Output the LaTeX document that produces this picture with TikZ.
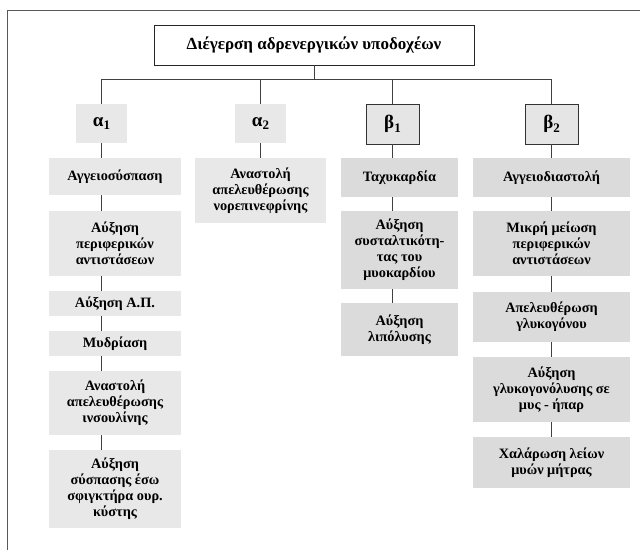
\documentclass[tikz,border=0pt]{standalone}
\usepackage{fontspec}
\setmainfont{Liberation Serif}
\usetikzlibrary{positioning}
\definecolor{ahfill}{gray}{0.91}
\definecolor{bhfill}{gray}{0.90}
\definecolor{acfill}{gray}{0.91}
\definecolor{bcfill}{gray}{0.86}
\newcommand{\rsub}[1]{\raisebox{-0.45ex}{\fontsize{13}{13}\selectfont #1}}

\begin{document}
\begin{tikzpicture}[x=1pt,y=-1pt,
    box/.style={inner sep=2pt, align=center, font=\fontsize{14.3}{16}\selectfont\bfseries},
    title/.style={box, draw=black!85, line width=0.9pt, fill=white, minimum width=320pt, minimum height=40pt, font=\fontsize{17}{18}\selectfont\bfseries},
    ahead/.style={box, fill=ahfill, minimum width=51pt, minimum height=39pt, font=\fontsize{19}{19}\selectfont\bfseries},
    bhead/.style={ahead, draw=black!80, line width=0.9pt, fill=bhfill, minimum width=53pt, minimum height=40pt},
    acell/.style={box, fill=acfill},
    bcell/.style={box, fill=bcfill},
    link/.style={draw=black!75, line width=0.8pt}]
  \useasboundingbox (0,0) rectangle (640,550);
  % frame
  \draw[black!65, line width=1.5pt] (7.5,550) -- (7.5,10.5) -- (640,10.5);

  % top
  \node[title] (top) at (314,45) {Διέγερση αδρενεργικών υποδοχέων};
  \coordinate (bus) at (314,79);

  % receptors
  \node[ahead] (a1) at (101.5,123.5) {α\rsub{1}};
  \node[ahead] (a2) at (260.5,123.5) {α\rsub{2}};
  \node[bhead] (b1) at (392.5,124) {β\rsub{1}};
  \node[bhead] (b2) at (551.5,124) {β\rsub{2}};

  % alpha 1 column
  \node[acell, minimum width=132pt, minimum height=37pt] (a11) at (115,176.5) {Αγγειοσύσπαση};
  \node[acell, minimum width=132pt, minimum height=65pt] (a12) at (115,243.5) {Αύξηση\\περιφερικών\\αντιστάσεων};
  \node[acell, minimum width=132pt, minimum height=25pt] (a13) at (115,303.5) {Αύξηση Α.Π.};
  \node[acell, minimum width=132pt, minimum height=25pt] (a14) at (115,343.5) {Μυδρίαση};
  \node[acell, minimum width=132pt, minimum height=64pt] (a15) at (115,403) {Αναστολή\\απελευθέρωσης\\ινσουλίνης};
  \node[acell, minimum width=132pt, minimum height=78pt] (a16) at (115,489) {Αύξηση\\σύσπασης έσω\\σφιγκτήρα ουρ.\\κύστης};

  % alpha 2 column
  \node[acell, minimum width=131pt, minimum height=65pt] (a21) at (260.5,190.5) {Αναστολή\\απελευθέρωσης\\νορεπινεφρίνης};

  % beta 1 column
  \node[bcell, minimum width=117pt, minimum height=39pt] (b11) at (399.5,177.5) {Ταχυκαρδία};
  \node[bcell, minimum width=117pt, minimum height=78pt] (b12) at (399.5,250) {Αύξηση\\συσταλτικότη-\\τας του\\μυοκαρδίου};
  \node[bcell, minimum width=117pt, minimum height=53pt] (b13) at (399.5,329.5) {Αύξηση\\λιπόλυσης};

  % beta 2 column
  \node[bcell, minimum width=157pt, minimum height=39pt] (b21) at (551.5,177.5) {Αγγειοδιαστολή};
  \node[bcell, minimum width=157pt, minimum height=65pt] (b22) at (551.5,243.5) {Μικρή μείωση\\περιφερικών\\αντιστάσεων};
  \node[bcell, minimum width=157pt, minimum height=50pt] (b23) at (551.5,317) {Απελευθέρωση\\γλυκογόνου};
  \node[bcell, minimum width=157pt, minimum height=65pt] (b24) at (551.5,389.5) {Αύξηση\\γλυκογονόλυσης σε\\μυς - ήπαρ};
  \node[bcell, minimum width=157pt, minimum height=51pt] (b25) at (551.5,462.5) {Χαλάρωση λείων\\μυών μήτρας};

  % tree lines
  \draw[link] (top.south) -- (bus);
  \draw[link] (a1.north) |- (b2.north |- bus) -- (b2.north);
  \draw[link] (a2.north) -- (a2.north |- bus);
  \draw[link] (b1.north) -- (b1.north |- bus);

  \foreach \h/\c in {a1/a11, a2/a21, b1/b11, b2/b21}
    \draw[link] (\h.south) -- (\h.south |- \c.north);
  \foreach \u/\v in {a11/a12, a12/a13, a13/a14, a14/a15, a15/a16}
    \draw[link] (\u.south -| a1.south) -- (\v.north -| a1.south);
  \foreach \u/\v in {b11/b12, b12/b13}
    \draw[link] (\u.south -| b1.south) -- (\v.north -| b1.south);
  \foreach \u/\v in {b21/b22, b22/b23, b23/b24, b24/b25}
    \draw[link] (\u.south -| b2.south) -- (\v.north -| b2.south);
\end{tikzpicture}
\end{document}
